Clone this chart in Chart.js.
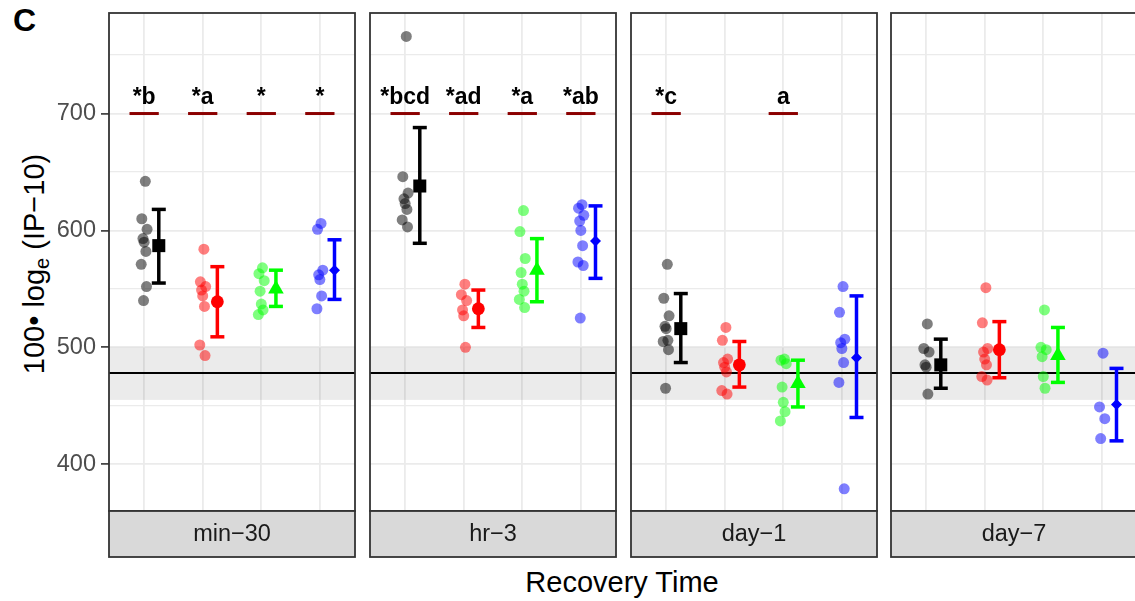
<!DOCTYPE html>
<html>
<head>
<meta charset="utf-8">
<script src="https://cdn.jsdelivr.net/npm/chart.js@4.4.0/dist/chart.umd.min.js"></script>
<style>
    html, body { margin: 0; padding: 0; background: #fff; overflow: hidden; }
    #wrap { position: relative; width: 1135px; height: 601px; overflow: hidden;
            font-family: "Liberation Sans", Arial, sans-serif; }
    #wrap canvas { position: absolute; top: 0; }
    .lbl { position: absolute; white-space: nowrap; }
    #ytitle { left: 34px; top: 264px; font-size: 29px; color: #000;
              transform: translate(-50%, -50%) rotate(-90deg); }
    #ytitle sub { font-size: 20px; vertical-align: -5px; line-height: 0; }
    #xtitle { left: 622px; top: 582px; font-size: 29px; color: #000; transform: translate(-50%, -50%); }
</style>
</head>
<body>
<div id="wrap">
    <div class="lbl" style="left:13px;top:2px;font-size:32px;font-weight:bold">C</div>
    <div class="lbl" id="ytitle">100• log<sub>e</sub> (IP−10)</div>
    <div class="lbl" id="xtitle">Recovery Time</div>
</div>
<script>
// Data (satu array per panel waktu)
const times = ['min−30', 'hr−3', 'day−1', 'day−7'];
const yTicks = [400, 500, 600, 700];

const blackPts = [[642, 610, 601, 593, 590, 582, 571, 552, 540],
                  [766, 646, 632, 627, 623, 618, 609, 603],
                  [571, 542, 527, 518, 516, 506, 505, 498, 465],
                  [520, 499, 496, 485, 483, 460]];
const redPts   = [[584, 556, 552, 549, 544, 535, 502, 493],
                  [554, 545, 540, 532, 527, 500],
                  [517, 506, 490, 487, 483, 479, 463, 460],
                  [551, 521, 499, 496, 490, 485, 475, 472]];
const greenPts = [[568, 563, 557, 548, 537, 532, 528],
                  [617, 599, 576, 564, 554, 548, 541, 534],
                  [490, 489, 486, 466, 453, 445, 437],
                  [532, 500, 498, 492, 475, 465]];
const bluePts  = [[606, 601, 566, 562, 558, 544, 533],
                  [622, 619, 613, 608, 600, 587, 573, 570, 525],
                  [552, 530, 507, 504, 499, 487, 470, 379],
                  [495, 449, 439, 422]];

const blackMean = [587, 638, 516, 485];
const blackLo   = [555, 589, 487, 465];
const blackHi   = [618, 688, 546, 507];
const redMean   = [539, 533, 485, 498];
const redLo     = [509, 517, 466, 474];
const redHi     = [569, 549, 505, 522];
const greenMean = [550, 566, 469, 493];
const greenLo   = [535, 539, 449, 470];
const greenHi   = [566, 593, 489, 517];
const blueMean  = [566, 591, 491, 451];
const blueLo    = [541, 559, 440, 420];
const blueHi    = [592, 621, 544, 482];

// label signifikansi per panel (urutan grup: hitam, merah, hijau, biru)
const sigLabels = [['*b', '*a', '*', '*'],
                   ['*bcd', '*ad', '*a', '*ab'],
                   ['*c', '', 'a', ''],
                   ['', '', '', '']];
const sigLevel = 700;
const refLine = 478;
const refBand = [455, 500];

// Gaya
const groups = [
    { rgb: '0,0,0',     pts: blackPts, mean: blackMean, lo: blackLo, hi: blackHi, shape: 'rect',     r: 9.2 },
    { rgb: '255,0,0',   pts: redPts,   mean: redMean,   lo: redLo,   hi: redHi,   shape: 'circle',   r: 6.4 },
    { rgb: '0,255,0',   pts: greenPts, mean: greenMean, lo: greenLo, hi: greenHi, shape: 'triangle', r: 9 },
    { rgb: '0,0,255',   pts: bluePts,  mean: blueMean,  lo: blueLo,  hi: blueHi,  shape: 'rectRot',  r: 5.5 }
];
const jitter = [0.02, -0.04, 0.05, -0.02, 0.0, 0.03, -0.05, 0.04, -0.01];
const dodge = 0.25;
const panelLeft = [109, 370, 631, 891];
const panelWidth = 246;
const plotTop = 13, plotBottom = 511, stripBottom = 557;
const fontFam = '"Liberation Sans", Arial, sans-serif';

// Plugin panel: pita referensi, garis referensi, bingkai, strip, label
const panelPlugin = {
    id: 'panelDecor',
    beforeDatasetsDraw(chart) {
        const { ctx, chartArea: a, scales: { y } } = chart;
        ctx.save();
        ctx.fillStyle = 'rgba(0,0,0,0.08)';
        const yTop = y.getPixelForValue(refBand[1]);
        const yBot = y.getPixelForValue(refBand[0]);
        ctx.fillRect(a.left, yTop, a.right - a.left, yBot - yTop);
        ctx.strokeStyle = '#000';
        ctx.lineWidth = 2;
        ctx.beginPath();
        const yr = Math.round(y.getPixelForValue(refLine));
        ctx.moveTo(a.left, yr);
        ctx.lineTo(a.right, yr);
        ctx.stroke();
        ctx.restore();
    },
    afterDraw(chart, args, opts) {
        const { ctx, chartArea: a, scales: { x, y } } = chart;
        ctx.save();
        // label signifikansi
        ctx.fillStyle = '#000';
        ctx.font = 'bold 23px ' + fontFam;
        ctx.textAlign = 'center';
        ctx.textBaseline = 'alphabetic';
        opts.sig.forEach((t, i) => {
            if (t) ctx.fillText(t, x.getPixelForValue(i + 1), y.getPixelForValue(sigLevel) - 10);
        });
        // bingkai panel
        ctx.strokeStyle = '#333';
        ctx.lineWidth = 1.8;
        ctx.strokeRect(a.left, a.top, a.right - a.left, a.bottom - a.top);
        // strip
        ctx.fillStyle = '#D9D9D9';
        ctx.fillRect(a.left, a.bottom, a.right - a.left, stripBottom - a.bottom);
        ctx.strokeRect(a.left, a.bottom, a.right - a.left, stripBottom - a.bottom);
        ctx.fillStyle = '#1A1A1A';
        ctx.font = '23.5px ' + fontFam;
        ctx.textBaseline = 'middle';
        ctx.fillText(opts.title, (a.left + a.right) / 2, (a.bottom + stripBottom) / 2 + 1);
        ctx.restore();
    }
};

function panelDatasets(p) {
    const ds = [];
    groups.forEach((g, gi) => {
        const cat = gi + 1;
        const solid = 'rgb(' + g.rgb + ')';
        ds.push({
            type: 'scatter',
            data: g.pts[p].map((v, k) => ({ x: cat + jitter[k % jitter.length], y: v })),
            backgroundColor: 'rgba(' + g.rgb + ',0.5)',
            borderWidth: 0,
            pointRadius: 5.5,
            order: 3
        });
        ds.push({
            type: 'line',
            data: [{ x: cat + dodge, y: g.lo[p] }, { x: cat + dodge, y: g.hi[p] }],
            borderColor: solid,
            borderWidth: 3.5,
            pointStyle: 'line',
            pointRadius: 7,
            pointBorderColor: solid,
            pointBorderWidth: 3.5,
            order: 2
        });
        ds.push({
            type: 'scatter',
            data: [{ x: cat + dodge, y: g.mean[p] }],
            pointStyle: g.shape,
            pointRadius: g.r,
            backgroundColor: solid,
            borderWidth: 0,
            order: 1
        });
        if (sigLabels[p][gi]) {
            ds.push({
                type: 'line',
                data: [{ x: cat - 0.25, y: sigLevel }, { x: cat + 0.25, y: sigLevel }],
                borderColor: '#8B0000',
                borderWidth: 3,
                pointRadius: 0,
                order: 4
            });
        }
    });
    return ds;
}

const wrap = document.getElementById('wrap');
times.forEach((t, p) => {
    const first = p === 0;
    const left = first ? 0 : panelLeft[p] - 3;
    const width = first ? panelLeft[0] + panelWidth + 3 : panelWidth + 6;
    const cv = document.createElement('canvas');
    cv.width = width;
    cv.height = 601;
    cv.style.left = left + 'px';
    cv.style.width = width + 'px';
    cv.style.height = '601px';
    wrap.appendChild(cv);

    new Chart(cv, {
        type: 'scatter',
        data: { datasets: panelDatasets(p) },
        options: {
            responsive: false,
            animation: false,
            layout: {
                autoPadding: false,
                padding: { top: plotTop, bottom: 601 - plotBottom, left: first ? 0 : 3, right: 3 }
            },
            plugins: {
                legend: { display: false },
                tooltip: { enabled: false },
                panelDecor: { sig: sigLabels[p], title: t }
            },
            scales: {
                x: {
                    type: 'linear', min: 0.4, max: 4.6,
                    afterBuildTicks: s => { s.ticks = [1, 2, 3, 4].map(v => ({ value: v })); },
                    afterFit: s => { s.height = 0; s.paddingLeft = 0; s.paddingRight = 0; },
                    ticks: { display: false },
                    border: { display: false },
                    grid: { color: '#EBEBEB', lineWidth: 1.8, drawTicks: false }
                },
                y: {
                    type: 'linear', min: 360, max: 786,
                    afterBuildTicks: s => {
                        s.ticks = [400, 450, 500, 550, 600, 650, 700, 750].map(v => ({ value: v }));
                    },
                    afterFit: s => {
                        s.width = first ? panelLeft[0] : 0;
                        s.paddingTop = 0;
                        s.paddingBottom = 0;
                    },
                    border: { display: false },
                    ticks: {
                        display: first,
                        color: '#4D4D4D',
                        padding: 5,
                        font: { family: fontFam, size: 23.5 },
                        callback: v => yTicks.includes(v) ? v : ''
                    },
                    grid: {
                        color: '#EBEBEB',
                        lineWidth: c => (c.tick && c.tick.value % 100 === 0) ? 1.8 : 1.2,
                        drawTicks: first,
                        tickLength: 8,
                        tickWidth: 1.6,
                        tickColor: c => (c.tick && c.tick.value % 100 === 0) ? '#333' : 'rgba(0,0,0,0)'
                    }
                }
            }
        },
        plugins: [panelPlugin]
    });
});
</script>
</body>
</html>
